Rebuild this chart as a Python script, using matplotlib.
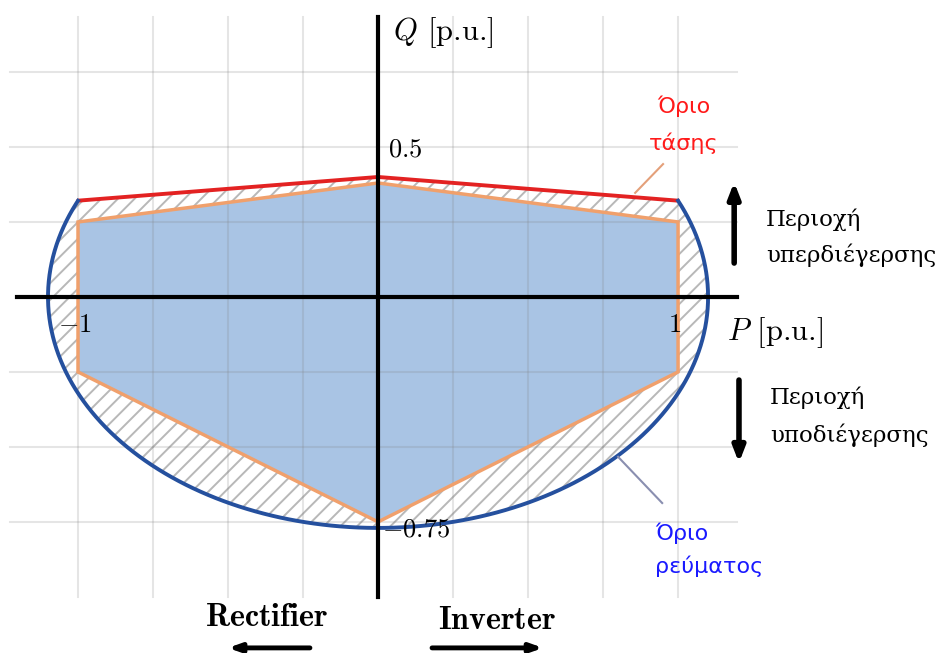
import numpy as np
import matplotlib.pyplot as plt
from matplotlib.patches import Polygon

plt.rcParams['mathtext.fontset'] = 'cm'
plt.rcParams['hatch.linewidth'] = 1.4

# operating region of the converter (orange outline, blue fill)
region_P = [-1.0, 0.0, 1.0, 1.0, 0.0, -1.0]
region_Q = [0.25, 0.38, 0.25, -0.25, -0.75, -0.25]

# voltage limit (red line)
volt_P = [-1.0, 0.0, 1.0]
volt_Q = [0.321, 0.40, 0.321]

# current limit: ellipse semi-axes
cur_a = 1.10
cur_b = 0.77

grid_P = [-1.0, -0.75, -0.5, -0.25, 0.25, 0.5, 0.75, 1.0]
grid_Q = [0.75, 0.5, 0.25, -0.25, -0.5, -0.75]

fig = plt.figure(figsize=(9.4, 6.53), dpi=100)
ax = fig.add_axes([0, 0, 1, 1])
ax.set_xlim(-1.26, 1.873)
ax.set_ylim(-1.187, 0.99)
ax.axis('off')

# current limit arc, from the right end of the red line down and round to the left end
t0 = np.arccos(volt_P[2] / cur_a)
t = np.linspace(t0, -np.pi - t0, 300)
arc_P = cur_a * np.cos(t)
arc_Q = cur_b * np.sin(t)

# hatched band between the limits and the operating region
outer = np.column_stack([np.r_[volt_P, arc_P], np.r_[volt_Q, arc_Q]])
ax.add_patch(Polygon(outer, closed=True, facecolor='white', edgecolor='#b8b8b8',
                     lw=0, hatch='//', zorder=1))

inner = np.column_stack([region_P, region_Q])
ax.add_patch(Polygon(inner, closed=True, facecolor='#a9c4e4', edgecolor='none', zorder=2))

# grid
for p in grid_P:
    ax.plot([p, p], [-1.0, 0.933], color='#808080', alpha=0.2, lw=1.5, zorder=3)
for q in grid_Q:
    ax.plot([-1.227, 1.197], [q, q], color='#808080', alpha=0.2, lw=1.5, zorder=3)

ax.add_patch(Polygon(inner, closed=True, facecolor='none', edgecolor='#f0a06c',
                     lw=2.5, zorder=4))
ax.plot(volt_P, volt_Q, color='#e32222', lw=2.8, zorder=5, solid_capstyle='round')
ax.plot(arc_P, arc_Q, color='#25509e', lw=2.8, zorder=5)

# axes
ax.plot([-1.203, 1.197], [0, 0], color='black', lw=3, zorder=6)
ax.plot([0, 0], [-1.0, 0.933], color='black', lw=3, zorder=6)

fs = 19
lab = dict(fontsize=22, family='cmr10', zorder=10)
ax.text(0.05, 0.88, r'$Q$ [p.u.]', ha='left', va='center', **lab)
ax.text(1.163, -0.12, r'$P$ [p.u.]', ha='left', va='center', **lab)
ax.text(0.033, 0.49, r'$0.5$', fontsize=fs, ha='left', va='center', zorder=10)
ax.text(-1.01, -0.093, r'$-1$', fontsize=fs, ha='center', va='center', zorder=10)
ax.text(0.99, -0.093, r'$1$', fontsize=fs, ha='center', va='center', zorder=10)
ax.text(0.012, -0.775, r'$-0.75$', fontsize=fs, ha='left', va='center', zorder=10)

greek = 'DejaVu Sans'
ax.text(1.02, 0.575, 'Όριο\nτάσης', color='#ff1a1a', fontsize=16, family=greek,
        ha='center', va='center', linespacing=1.9)
ax.plot([0.95, 0.857], [0.443, 0.347], color='#e4a07a', lw=1.5, zorder=5)

ax.text(0.923, -0.843, 'Όριο\nρεύματος', color='#1a1aff', fontsize=16, family=greek,
        ha='left', va='center', linespacing=1.7)
ax.plot([0.80, 0.947], [-0.533, -0.687], color='#8a8fb0', lw=1.5, zorder=5)

ax.text(1.293, 0.197, 'Περιοχή\nυπερδιέγερσης', fontsize=16.5, family='DejaVu Serif',
        ha='left', va='center', linespacing=1.7)
ax.text(1.307, -0.40, 'Περιοχή\nυποδιέγερσης', fontsize=16.5, family='DejaVu Serif',
        ha='left', va='center', linespacing=1.8)

arrow = dict(arrowstyle='-|>,head_length=0.9,head_width=0.35', lw=4, color='black',
             shrinkA=0, shrinkB=0)
ax.annotate('', xy=(1.187, 0.383), xytext=(1.187, 0.113), arrowprops=arrow)
ax.annotate('', xy=(1.203, -0.553), xytext=(1.203, -0.277), arrowprops=arrow)

ax.text(-0.373, -1.07, r'$\mathbf{Rectifier}$', fontsize=23, ha='center', va='center')
ax.text(0.397, -1.077, r'$\mathbf{Inverter}$', fontsize=23, ha='center', va='center')
small = dict(arrowstyle='-|>,head_length=0.7,head_width=0.25', lw=3.5, color='black',
             shrinkA=0, shrinkB=0)
ax.annotate('', xy=(-0.50, -1.17), xytext=(-0.227, -1.17), arrowprops=small)
ax.annotate('', xy=(0.55, -1.17), xytext=(0.18, -1.17), arrowprops=small)

fig.savefig('out.png', dpi=100)
